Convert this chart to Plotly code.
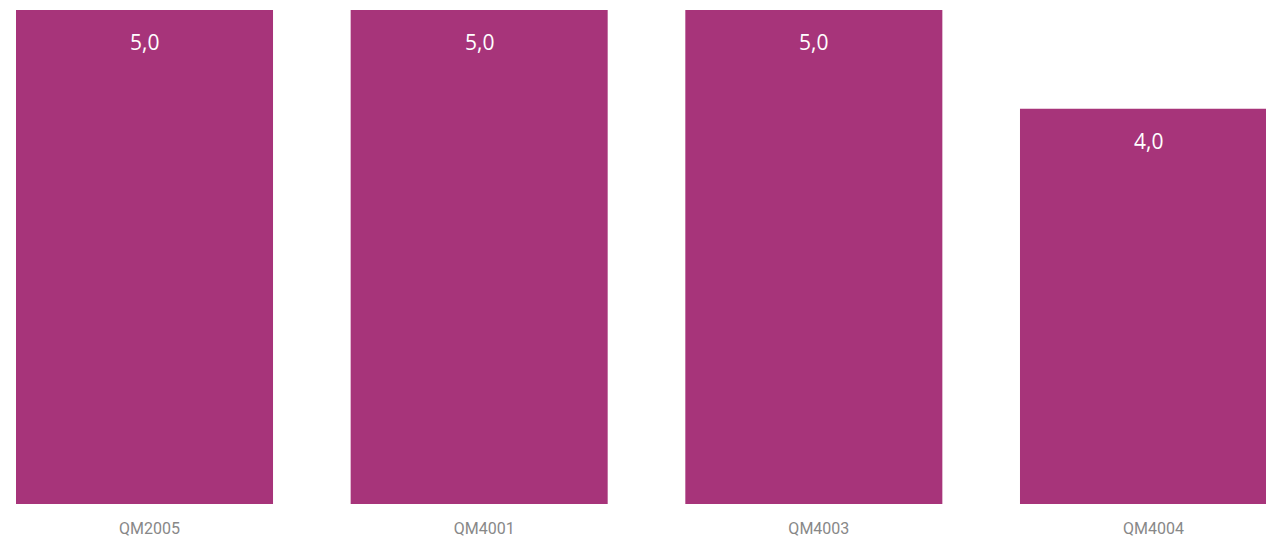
import plotly.graph_objects as go

categories = ["QM2005", "QM4001", "QM4003", "QM4004"]
values = [5.0, 5.0, 5.0, 4.0]
labels = ["5,0", "5,0", "5,0", "4,0"]

bar_color = "#A7347A"

fig = go.Figure()
fig.add_trace(go.Bar(
    x=categories, y=values, marker=dict(color=bar_color, line=dict(width=0)),
    hoverinfo="skip",
))

for c, v, t in zip(categories, values, labels):
    fig.add_annotation(x=c, y=v, text=t, showarrow=False, yanchor="top",
                       yshift=-16, font=dict(family="Open Sans", size=21, color="white"))

fig.update_layout(
    width=1266, height=545,
    margin=dict(l=0, r=0, t=0, b=41),
    paper_bgcolor="white", plot_bgcolor="white",
    bargap=0.232,
    showlegend=False,
    xaxis=dict(range=[-0.4318, 3.3511], showgrid=False, zeroline=False, showline=False,
               ticks="", tickfont=dict(family="Roboto", size=16, color="#888888"),
               ticklabelshift=5, ticklabelstandoff=13),
    yaxis=dict(range=[0, 5.101], visible=False),
)

fig.write_html("out.html", config={"displayModeBar": False},
               post_script="document.body.style.margin='0';document.body.style.overflow='hidden';")
